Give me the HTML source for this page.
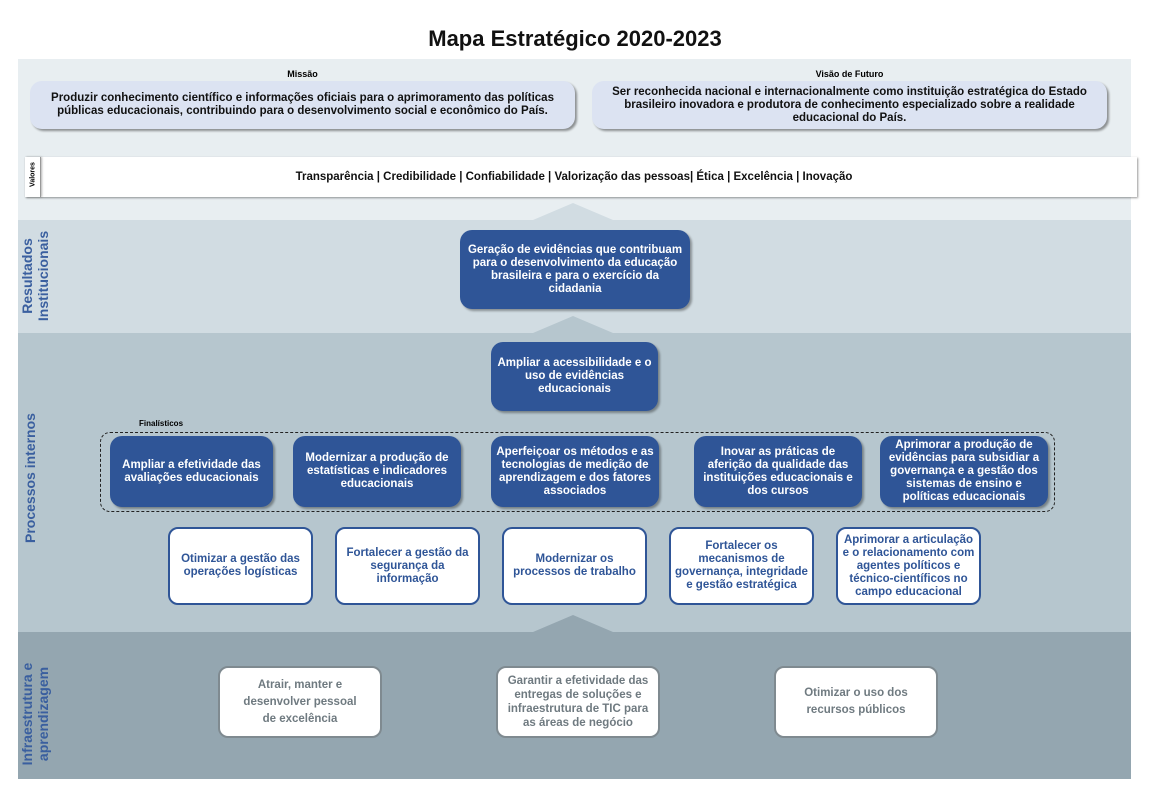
<!DOCTYPE html>
<html><head><meta charset="utf-8"><style>
*{margin:0;padding:0;box-sizing:border-box}
body{width:1150px;height:797px;background:#fff;position:relative;font-family:"Liberation Sans",sans-serif;overflow:hidden}
.a{position:absolute}
.band{position:absolute;left:18px;width:1113px}
.c{display:flex;align-items:center;justify-content:center;text-align:center;font-weight:bold}
.dk{background:#2f5597;color:#fff;border-radius:12px;font-size:11.5px;line-height:13px;box-shadow:2px 2px 2px rgba(0,0,0,.35);padding:0 4px}
.wh{background:#fff;color:#2f5597;border:2.5px solid #2f5597;border-radius:10px;font-size:11.5px;line-height:13px;padding:0 4px}
.gr{background:#fff;color:#6f7a80;border:2px solid #7f8a90;border-radius:10px;font-size:11.5px;line-height:17px;padding:0 4px}
.lbl{position:absolute;color:#3a5f9f;font-weight:bold;font-size:14px;line-height:16px;transform:rotate(-90deg);transform-origin:center;text-align:center;white-space:nowrap}
.tri{position:absolute;width:0;height:0;border-left:40px solid transparent;border-right:40px solid transparent}
</style></head><body>
<div class="a" style="left:0;width:1150px;top:26px;text-align:center;font-size:22px;font-weight:bold;color:#111">Mapa Estratégico 2020-2023</div>
<div class="band" style="top:59px;height:161px;background:#e8eef1"></div>
<div class="band" style="top:220px;height:113px;background:#d1dce2"></div>
<div class="band" style="top:333px;height:299px;background:#b6c6ce"></div>
<div class="band" style="top:632px;height:147px;background:#94a6b0"></div>
<div class="tri" style="left:533px;top:203px;border-bottom:17px solid #d1dce2"></div>
<div class="tri" style="left:533px;top:316px;border-bottom:17px solid #b6c6ce"></div>
<div class="tri" style="left:533px;top:615px;border-bottom:17px solid #94a6b0"></div>

<div class="a" style="left:30px;width:545px;top:69px;text-align:center;font-size:9px;font-weight:bold">Missão</div>
<div class="a c" style="left:30px;top:81px;width:545px;height:48px;background:#dce3f2;border-radius:12px;box-shadow:2px 2px 2px rgba(0,0,0,.4);font-size:11.5px;line-height:13px;color:#111">Produzir conhecimento científico e informações oficiais para o aprimoramento das políticas<br>públicas educacionais, contribuindo para o desenvolvimento social e econômico do País.</div>
<div class="a" style="left:592px;width:515px;top:69px;text-align:center;font-size:9px;font-weight:bold">Visão de Futuro</div>
<div class="a c" style="left:592px;top:81px;width:515px;height:48px;background:#dce3f2;border-radius:12px;box-shadow:2px 2px 2px rgba(0,0,0,.4);font-size:11.5px;line-height:13px;color:#111">Ser reconhecida nacional e internacionalmente como instituição estratégica do Estado<br>brasileiro inovadora e produtora de conhecimento especializado sobre a realidade<br>educacional do País.</div>

<div class="a" style="left:25px;top:157px;width:1112px;height:40px;background:#fff;box-shadow:1px 1px 2px rgba(0,0,0,.4)"></div>
<div class="a" style="left:25px;top:157px;width:16px;height:40px;border-right:1px solid #999;box-shadow:1px 0 2px rgba(0,0,0,.3)"></div>
<div class="a" style="left:13px;top:171px;width:40px;font-size:7px;font-weight:bold;transform:rotate(-90deg);text-align:center">Valores</div>
<div class="a c" style="left:41px;top:157px;width:1066px;height:40px;font-size:11.5px;color:#111">Transparência | Credibilidade | Confiabilidade | Valorização das pessoas| Ética | Excelência | Inovação</div>

<div class="lbl" style="left:-20px;top:260px;width:110px">Resultados<br>Institucionais</div>
<div class="lbl" style="left:-30px;top:475px;width:120px">Processos internos</div>
<div class="lbl" style="left:-30px;top:698px;width:130px">Infraestrutura e<br>aprendizagem</div>

<div class="a c dk" style="left:460px;top:230px;width:230px;height:79px">Geração de evidências que contribuam para o desenvolvimento da educação brasileira e para o exercício da cidadania</div>
<div class="a c dk" style="left:491px;top:342px;width:167px;height:69px">Ampliar a acessibilidade e o uso de evidências educacionais</div>

<div class="a" style="left:139px;top:419px;font-size:8px;font-weight:bold">Finalísticos</div>
<div class="a" style="left:100px;top:432px;width:955px;height:80px;border:1.5px dashed #222;border-radius:10px"></div>
<div class="a c dk" style="left:110px;top:436px;width:163px;height:71px">Ampliar a efetividade das avaliações educacionais</div>
<div class="a c dk" style="left:293px;top:436px;width:168px;height:71px">Modernizar a produção de estatísticas e indicadores educacionais</div>
<div class="a c dk" style="left:491px;top:436px;width:168px;height:71px">Aperfeiçoar os métodos e as tecnologias de medição de aprendizagem e dos fatores associados</div>
<div class="a c dk" style="left:694px;top:436px;width:168px;height:71px">Inovar as práticas de aferição da qualidade das instituições educacionais e dos cursos</div>
<div class="a c dk" style="left:880px;top:436px;width:168px;height:71px">Aprimorar a produção de evidências para subsidiar a governança e a gestão dos sistemas de ensino e políticas educacionais</div>

<div class="a c wh" style="left:168px;top:527px;width:145px;height:78px">Otimizar a gestão das operações logísticas</div>
<div class="a c wh" style="left:335px;top:527px;width:145px;height:78px">Fortalecer a gestão da segurança da informação</div>
<div class="a c wh" style="left:502px;top:527px;width:145px;height:78px">Modernizar os processos de trabalho</div>
<div class="a c wh" style="left:669px;top:527px;width:145px;height:78px">Fortalecer os mecanismos de governança, integridade e gestão estratégica</div>
<div class="a c wh" style="left:836px;top:527px;width:145px;height:78px">Aprimorar a articulação e o relacionamento com agentes políticos e técnico-científicos no campo educacional</div>

<div class="a c gr" style="left:218px;top:666px;width:164px;height:72px">Atrair, manter e<br>desenvolver pessoal<br>de excelência</div>
<div class="a c gr" style="left:496px;top:666px;width:164px;height:72px;line-height:14px">Garantir a efetividade das entregas de soluções e infraestrutura de TIC para as áreas de negócio</div>
<div class="a c gr" style="left:774px;top:666px;width:164px;height:72px">Otimizar o uso dos<br>recursos  públicos</div>
</body></html>
